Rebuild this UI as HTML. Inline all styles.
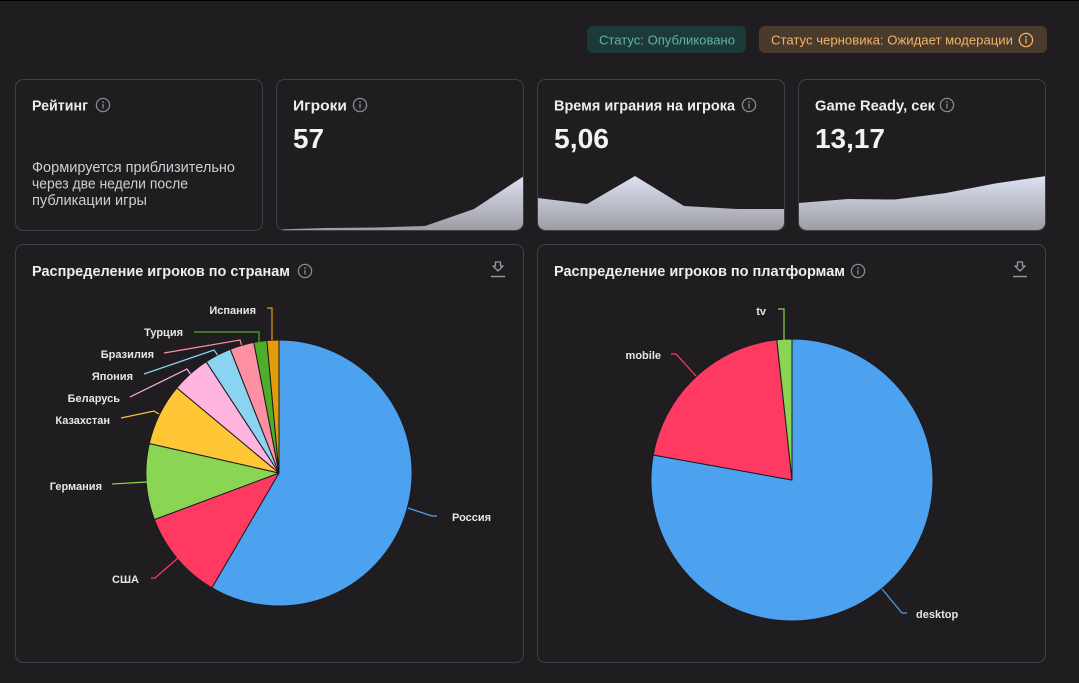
<!DOCTYPE html>
<html><head><meta charset="utf-8"><style>
html,body{margin:0;padding:0;background:#201d21;}
body{width:1079px;height:683px;overflow:hidden;}
svg{display:block;}
text{font-family:"Liberation Sans",Arial,sans-serif;}
</style></head><body>
<svg width="1079" height="683" viewBox="0 0 1079 683" xmlns="http://www.w3.org/2000/svg">
<defs>
<linearGradient id="sg" x1="0" y1="176" x2="0" y2="231" gradientUnits="userSpaceOnUse">
<stop offset="0" stop-color="#dde1f3"/><stop offset="1" stop-color="#9c9ca2"/>
</linearGradient>
<clipPath id="c2"><rect x="276.5" y="79.5" width="247" height="151" rx="8"/></clipPath>
<clipPath id="c3"><rect x="537.5" y="79.5" width="247" height="151" rx="8"/></clipPath>
<clipPath id="c4"><rect x="798.5" y="79.5" width="247" height="151" rx="8"/></clipPath>
<g id="info"><circle cx="0" cy="0" r="6.6" fill="none" stroke="#8c8a8e" stroke-width="1.3"/><circle cx="0" cy="-3" r="0.9" fill="#8c8a8e"/><rect x="-0.65" y="-1.2" width="1.3" height="4.6" fill="#8c8a8e"/></g>
<g id="dl"><path d="M-2.5,-6 H2.5 V-2 H5 L0,3 L-5,-2 H-2.5 Z" fill="none" stroke="#9a989c" stroke-width="1.3" stroke-linejoin="round"/><path d="M-7,8.5 H7" stroke="#9a989c" stroke-width="1.4"/></g>
</defs>
<rect x="0" y="0" width="1079" height="1" fill="#000"/>

<!-- badges -->
<rect x="587" y="26" width="159" height="27" rx="6" fill="#1e3a38"/>
<text x="599" y="44.5" font-size="13" fill="#5db5a2" textLength="136" lengthAdjust="spacingAndGlyphs">Статус: Опубликовано</text>
<rect x="759" y="26" width="288" height="27" rx="6" fill="#4a3a2b"/>
<text x="771" y="44.5" font-size="13" fill="#f3b469" textLength="242" lengthAdjust="spacingAndGlyphs">Статус черновика: Ожидает модерации</text>
<circle cx="1026" cy="40" r="6.6" fill="none" stroke="#f3b469" stroke-width="1.3"/><circle cx="1026" cy="37" r="0.9" fill="#f3b469"/><rect x="1025.35" y="38.8" width="1.3" height="4.6" fill="#f3b469"/>

<!-- sparklines -->
<g clip-path="url(#c2)"><polygon fill="url(#sg)" points="276,229.5 326,228 375,227.5 425,226 474,209 524,176 524,232 276,232"/></g>
<g clip-path="url(#c3)"><polygon fill="url(#sg)" points="537,198 587,204 635,176 684,206 737,209 785,209 785,232 537,232"/></g>
<g clip-path="url(#c4)"><polygon fill="url(#sg)" points="798,203 848,199 895,199.5 946,193 995,183.5 1046,176 1046,232 798,232"/></g>

<!-- cards -->
<g fill="none" stroke="#423f46" stroke-width="1">
<rect x="15.5" y="79.5" width="247" height="151" rx="8"/>
<rect x="276.5" y="79.5" width="247" height="151" rx="8"/>
<rect x="537.5" y="79.5" width="247" height="151" rx="8"/>
<rect x="798.5" y="79.5" width="247" height="151" rx="8"/>
<rect x="15.5" y="244.5" width="508" height="418" rx="8"/>
<rect x="537.5" y="244.5" width="508" height="418" rx="8"/>
</g>

<!-- card texts -->
<g font-weight="bold" font-size="15" fill="#ededed">
<text x="32" y="110.5" textLength="56" lengthAdjust="spacingAndGlyphs">Рейтинг</text>
<text x="293" y="110.5" textLength="54" lengthAdjust="spacingAndGlyphs">Игроки</text>
<text x="554" y="110.5" textLength="181" lengthAdjust="spacingAndGlyphs">Время играния на игрока</text>
<text x="815" y="110.5" textLength="120" lengthAdjust="spacingAndGlyphs">Game Ready, сек</text>
</g>
<use href="#info" x="103" y="105"/>
<use href="#info" x="360" y="105"/>
<use href="#info" x="749" y="105"/>
<use href="#info" x="947" y="105"/>
<g font-weight="bold" font-size="28" fill="#f2f2f2">
<text x="293" y="148" textLength="31" lengthAdjust="spacingAndGlyphs">57</text>
<text x="554" y="148" textLength="55" lengthAdjust="spacingAndGlyphs">5,06</text>
<text x="815" y="148" textLength="70" lengthAdjust="spacingAndGlyphs">13,17</text>
</g>
<g font-size="14.5" fill="#cfcdd0">
<text x="32" y="172" textLength="203" lengthAdjust="spacingAndGlyphs">Формируется приблизительно</text>
<text x="32" y="188.5" textLength="156" lengthAdjust="spacingAndGlyphs">через две недели после</text>
<text x="32" y="205" textLength="115" lengthAdjust="spacingAndGlyphs">публикации игры</text>
</g>

<!-- panel titles -->
<g font-weight="bold" font-size="14.5" fill="#ededed">
<text x="32" y="276" textLength="258" lengthAdjust="spacingAndGlyphs">Распределение игроков по странам</text>
<text x="554" y="276" textLength="291" lengthAdjust="spacingAndGlyphs">Распределение игроков по платформам</text>
</g>
<use href="#info" x="305" y="271"/>
<use href="#info" x="858" y="271"/>
<use href="#dl" x="498" y="268"/>
<use href="#dl" x="1020" y="268"/>

<!-- pie 1 -->
<g stroke="#1c1a1d" stroke-width="1" stroke-linejoin="round">
<path fill="#4ca2ef" d="M279,473 L279,340 A133,133 0 1 1 211.9,587.8 Z"/>
<path fill="#ff3a62" d="M279,473 L211.9,587.8 A133,133 0 0 1 154.4,519.6 Z"/>
<path fill="#8ad554" d="M279,473 L154.4,519.6 A133,133 0 0 1 149.3,443.5 Z"/>
<path fill="#ffc636" d="M279,473 L149.3,443.5 A133,133 0 0 1 176.8,387.9 Z"/>
<path fill="#ffb4e0" d="M279,473 L176.8,387.9 A133,133 0 0 1 206.2,361.7 Z"/>
<path fill="#8ad3f1" d="M279,473 L206.2,361.7 A133,133 0 0 1 230.3,349.3 Z"/>
<path fill="#ff8fa3" d="M279,473 L230.3,349.3 A133,133 0 0 1 253.8,342.4 Z"/>
<path fill="#4fad2a" d="M279,473 L253.8,342.4 A133,133 0 0 1 266.9,340.5 Z"/>
<path fill="#e49c0c" d="M279,473 L266.9,340.5 A133,133 0 0 1 279,340 Z"/>
</g>
<g fill="none" stroke-width="1.2">
<path stroke="#e49c0c" d="M267,308 H272 V340"/>
<path stroke="#4fad2a" d="M194,332 H259 V342"/>
<path stroke="#ff8fa3" d="M164,353 L240,340 L241.5,345"/>
<path stroke="#8ad3f1" d="M144,374 L214,350 L217.5,355"/>
<path stroke="#ffb4e0" d="M130,397 L187,369 L190.5,374"/>
<path stroke="#ffc636" d="M121,418 L154,411 L159,414"/>
<path stroke="#8ad554" d="M112,484 L147,482"/>
<path stroke="#ff3a62" d="M151,578 H155 L178,558"/>
<path stroke="#4ca2ef" d="M437,516 H432 L408,508"/>
</g>
<g font-weight="bold" font-size="11" fill="#e6e6e6">
<text x="256" y="314" text-anchor="end">Испания</text>
<text x="183" y="336" text-anchor="end">Турция</text>
<text x="154" y="358" text-anchor="end">Бразилия</text>
<text x="133" y="380" text-anchor="end">Япония</text>
<text x="120" y="402" text-anchor="end">Беларусь</text>
<text x="110" y="424" text-anchor="end">Казахстан</text>
<text x="102" y="490" text-anchor="end">Германия</text>
<text x="139" y="583" text-anchor="end">США</text>
<text x="452" y="521">Россия</text>
</g>

<!-- pie 2 -->
<g stroke="#1c1a1d" stroke-width="1" stroke-linejoin="round">
<path fill="#4ca2ef" d="M792,480 L792,339 A141,141 0 1 1 653.2,455 Z"/>
<path fill="#ff3a62" d="M792,480 L653.2,455 A141,141 0 0 1 776.8,339.8 Z"/>
<path fill="#8ad554" d="M792,480 L776.8,339.8 A141,141 0 0 1 792,339 Z"/>
</g>
<g fill="none" stroke-width="1.2">
<path stroke="#8ad554" d="M778,309 H784 V340"/>
<path stroke="#ff3a62" d="M671,354 H676 L696,376"/>
<path stroke="#4ca2ef" d="M907,613 H902 L882,589"/>
</g>
<g font-weight="bold" font-size="11" fill="#e6e6e6">
<text x="766" y="315" text-anchor="end">tv</text>
<text x="661" y="359" text-anchor="end">mobile</text>
<text x="916" y="618">desktop</text>
</g>
</svg>
</body></html>
